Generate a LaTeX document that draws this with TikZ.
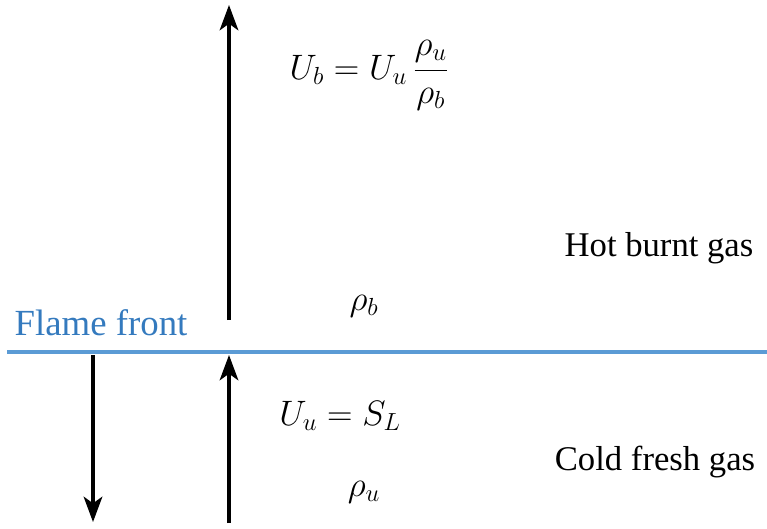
\RequirePackage{fix-cm}
\documentclass[tikz,border=0pt]{standalone}
\usepackage{amsmath}
\usepackage{fontspec}
\setmainfont{Liberation Serif}
\usepackage{tikz}
\usetikzlibrary{arrows.meta}
\definecolor{frontblue}{RGB}{91,155,213}
\definecolor{fronttext}{RGB}{52,122,190}

\begin{document}
\begin{tikzpicture}[x=0.75pt, y=-0.75pt]
  \tikzset{flow/.style={-{Stealth[length=19pt, width=14pt, inset=5pt]}, line width=2.4pt, black},
           gas/.style={font=\fontsize{26}{31}\selectfont},
           eq/.style={font=\fontsize{26.5}{32}\selectfont}}
  \useasboundingbox (0,0) rectangle (767,528);

  % Flame front
  \coordinate (fl) at (7,352);
  \coordinate (fr) at (767,352);
  \draw[frontblue, line width=3.6pt] (fl) -- (fr);
  \node[text=fronttext, font=\fontsize{27.6}{33}\selectfont] (front) at (101,323) {Flame front};

  % Burnt side
  \coordinate (b0) at (229,320); \coordinate (b1) at (229,5);
  \draw[flow] (b0) -- (b1);
  \node[eq] (ub) at (369,75) {$U_b = U_u\,\dfrac{\rho_u}{\rho_b}$};
  \node[eq] (rhob) at (364,306) {$\rho_b$};
  \node[gas] (hot) at (659,248) {Hot burnt gas};

  % Fresh side
  \coordinate (u0) at (229,523); \coordinate (u1) at (229,355);
  \draw[flow] (u0) -- (u1);
  \coordinate (d0) at (93,355); \coordinate (d1) at (93,522);
  \draw[flow] (d0) -- (d1);
  \node[eq] (uu) at (340,416) {$U_u = S_L$};
  \node[eq] (rhou) at (364,492) {$\rho_u$};
  \node[gas] (cold) at (655,462) {Cold fresh gas};
\end{tikzpicture}
\end{document}
